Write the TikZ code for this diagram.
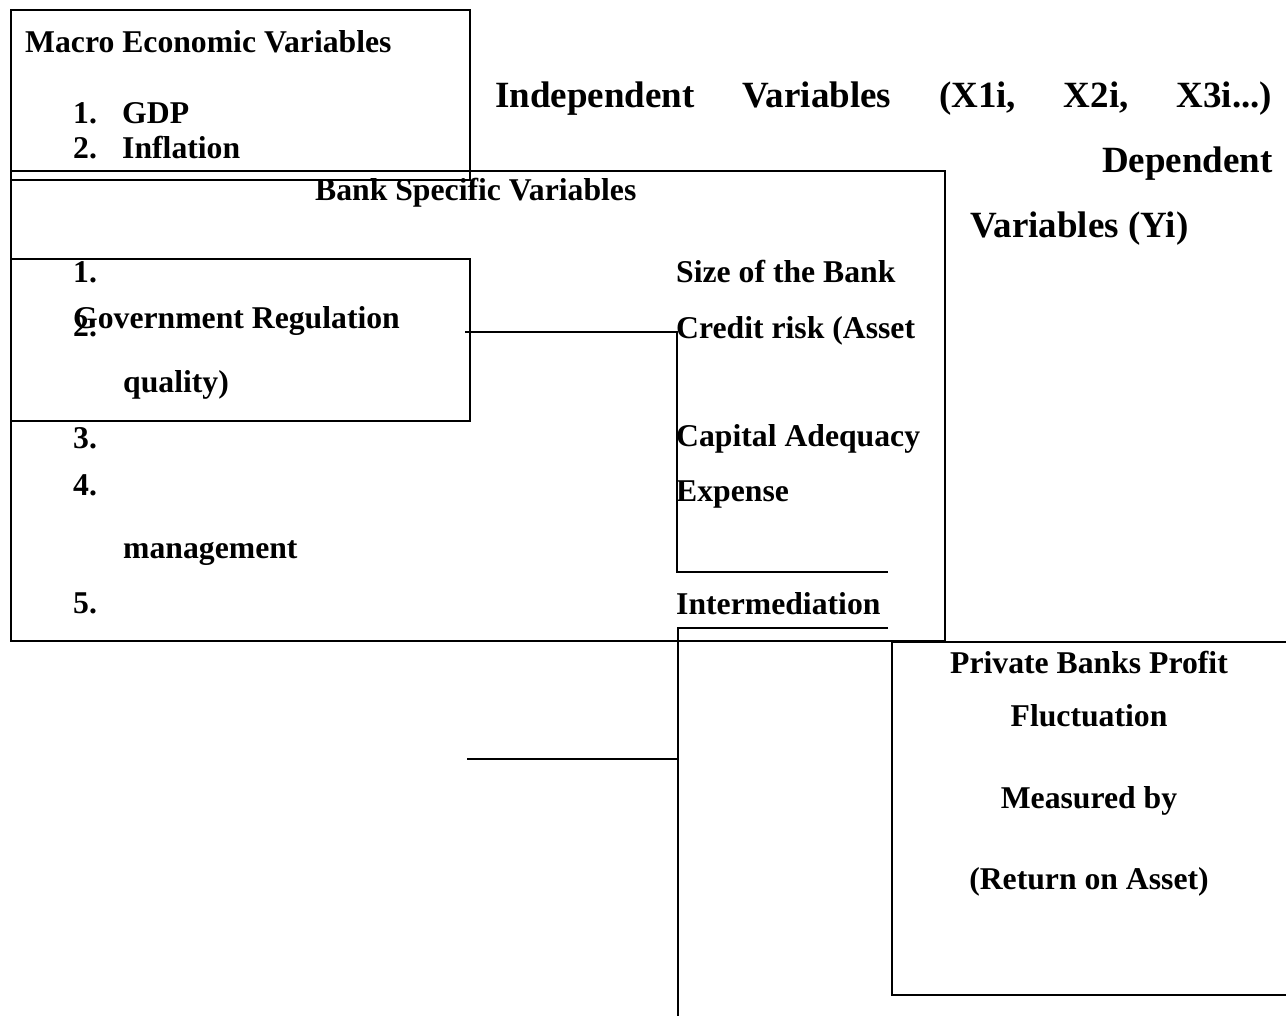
\documentclass[tikz,border=0pt]{standalone}
\usepackage{fontspec}
\setmainfont{Liberation Serif}
\begin{document}
\begin{tikzpicture}[x=1pt,y=-1pt,
  box/.style={draw,line width=1.7pt,inner sep=0,anchor=north west},
  conn/.style={line width=1.3pt},
  txt/.style={inner sep=0,anchor=base west,font=\bfseries\fontsize{31.7}{38}\selectfont},
  ctxt/.style={txt,anchor=base},
  big/.style={inner sep=0,font=\bfseries\fontsize{37}{44}\selectfont}]
\useasboundingbox (0,0) rectangle (1286,1019);
% boxes
\node[box,minimum width=459pt,minimum height=170pt] (macro) at (10,9) {};
\node[box,minimum width=934pt,minimum height=470pt] (bank) at (10,170) {};
\node[box,minimum width=459pt,minimum height=162pt] (gov) at (10,258) {};
\node[box,minimum width=405pt,minimum height=353pt] (profit) at (891,641) {};
% macro text
\node[txt] (tmacro) at (25,53) {Macro Economic Variables};
\node[txt] (m1n) at (73,124) {1.};
\node[txt] (m1) at (122,124) {GDP};
\node[txt] (m2n) at (73,159) {2.};
\node[txt] (m2) at (122,159) {Inflation};
% headings
\node[big,anchor=base west] (indep) at (495,108) {\hbox to 777pt{Independent\hfill Variables\hfill (X1i,\hfill X2i,\hfill X3i...)}};
\node[big,anchor=base east] (dep1) at (1273,173) {Dependent};
\node[big,anchor=base west] (dep2) at (970,238) {Variables (Yi)};
% bank specific
\node[txt] (tbank) at (315,201) {Bank Specific Variables};
\node[txt] (b1n) at (73,283) {1.};
\node[txt] (b2n) at (73,337) {2.};
\node[txt] (tgov) at (73,329) {Government Regulation};
\node[txt] (bq) at (123,392) {quality)};
\node[txt] (b3n) at (73,448) {3.};
\node[txt] (b4n) at (73,495) {4.};
\node[txt] (bm) at (123,558) {management};
\node[txt] (b5n) at (73,613) {5.};
\node[txt] (b1) at (676,283) {Size of the Bank};
\node[txt] (b2) at (676,338) {Credit risk (Asset};
\node[txt] (b3) at (676,446) {Capital Adequacy};
\node[txt] (b4) at (676,501) {Expense};
\node[txt] (b5) at (676,614) {Intermediation};
% profit text
\node[ctxt] (p1) at (1089,673) {Private Banks Profit};
\node[ctxt] (p2) at (1089,726) {Fluctuation};
\node[ctxt] (p3) at (1089,808) {Measured by};
\node[ctxt] (p4) at (1089,889) {(Return on Asset)};
% connectors
\coordinate (g1) at (465,332);
\coordinate (j1) at (677,332);
\coordinate (j2) at (677,572);
\coordinate (j3) at (888,572);
\draw[conn] (g1) -- (j1) -- (j2) -- (j3);
\coordinate (k1) at (888,628);
\coordinate (k2) at (678,628);
\coordinate (k3) at (678,1016);
\draw[conn] (k1) -- (k2) -- (k3);
\coordinate (k4) at (467,759);
\coordinate (k5) at (678,759);
\draw[conn] (k4) -- (k5);
\end{tikzpicture}
\end{document}
